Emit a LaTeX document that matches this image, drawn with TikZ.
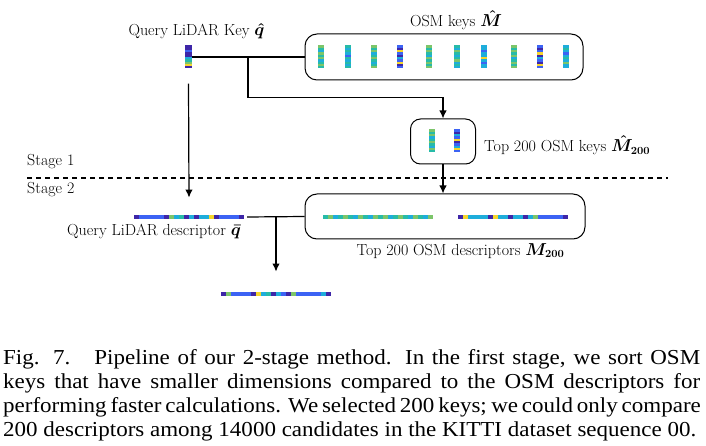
\documentclass[tikz,border=0pt]{standalone}
\usepackage{fontspec}
\usepackage{amsmath,amssymb}
\newfontfamily\capfont[FakeStretch=1.08]{Liberation Serif}
\usetikzlibrary{arrows.meta,positioning,calc}
\definecolor{dk}{HTML}{3E26A8}
\definecolor{bl}{HTML}{3C63F4}
\definecolor{cy}{HTML}{1EADDB}
\definecolor{tl}{HTML}{27BBA8}
\definecolor{gr}{HTML}{7CC56A}
\definecolor{yl}{HTML}{F5D52C}
\tikzset{
  box/.style={draw,line width=1pt,rounded corners=12pt,inner sep=0pt},
  vbar/.style={inner sep=0pt,minimum width=6pt,minimum height=23pt,
    path picture={\foreach \c [count=\i from 0] in {#1}
      \fill[\c] ([yshift=-\i*2.3pt]path picture bounding box.north west)
        rectangle ([yshift=-\i*2.3pt-2.3pt]path picture bounding box.north east);}},
  hbar/.style={inner sep=0pt,minimum width=110pt,minimum height=4.5pt,
    path picture={\foreach \c [count=\i from 0] in {#1}
      \fill[\c] ([xshift=\i*5pt]path picture bounding box.south west)
        rectangle ([xshift=\i*5pt+5pt]path picture bounding box.north west);}},
  ln/.style={line width=1.2pt},
  ar/.style={ln,-{Latex[length=8pt,width=7.5pt]}},
  dl/.style={line width=1.2pt,dash pattern=on 5pt off 4pt},
  lbl/.style={inner sep=1pt},
  captxt/.style={anchor=base west,inner sep=0pt,font=\capfont\fontsize{21.3}{24}\selectfont},
}
\begin{document}
\begin{tikzpicture}[x=1pt,y=1pt,font=\fontsize{16}{19}\selectfont]
\useasboundingbox (0,0) rectangle (706,-446);
\node[vbar={dk,dk,bl,dk,dk,cy,tl,gr,yl,dk},minimum width=7pt] (qkey) at (188.5,-57) {};
\node[lbl] (qkeyl) at (196.5,-31) {Query LiDAR Key $\boldsymbol{\hat{q}}$};
\node[box,minimum width=278pt,minimum height=46pt] (osm) at (444,-57) {};
\node[lbl] (osml) at (456,-20) {OSM keys $\boldsymbol{\hat{M}}$};
\node[vbar={gr,tl,cy,gr,tl,gr,cy,tl,gr,tl}] (k1) at (321,-57) {};
\node[vbar={tl,cy,tl,cy,bl,tl,cy,tl,cy,tl}] (k2) at (348,-57) {};
\node[vbar={gr,tl,gr,cy,tl,gr,tl,cy,tl,gr}] (k3) at (374,-57) {};
\node[vbar={bl,dk,yl,bl,dk,cy,bl,yl,dk,bl}] (k4) at (400,-57) {};
\node[vbar={gr,tl,gr,tl,cy,gr,tl,gr,tl,gr}] (k5) at (429,-57) {};
\node[vbar={tl,cy,gr,tl,cy,tl,gr,cy,tl,cy}] (k6) at (457,-57) {};
\node[vbar={cy,cy,bl,cy,cy,yl,cy,bl,cy,cy}] (k7) at (484,-57) {};
\node[vbar={gr,tl,gr,tl,gr,cy,tl,gr,tl,gr}] (k8) at (514,-57) {};
\node[vbar={bl,dk,bl,yl,dk,cy,bl,dk,yl,bl}] (k9) at (540,-57) {};
\node[vbar={cy,tl,cy,bl,cy,tl,cy,gr,cy,cy}] (k10) at (566,-57) {};
\node[box,rounded corners=10pt,minimum width=65pt,minimum height=45pt] (top) at (443,-141.5) {};
\node[vbar={gr,tl,gr,cy,tl,gr,tl,cy,gr,tl}] (t1) at (432,-141) {};
\node[vbar={bl,dk,cy,bl,yl,dk,bl,cy,yl,bl}] (t2) at (457,-141) {};
\node[lbl,anchor=west] (topl) at (483,-145) {Top 200 OSM keys $\boldsymbol{\hat{M}_{200}}$};
\coordinate (sl) at (27,-178);
\coordinate (sr) at (668,-178);
\draw[dl] (sl) -- (sr);
\node[anchor=west,inner sep=0pt] (st1) at (27,-162) {Stage 1};
\node[anchor=west,inner sep=0pt] (st2) at (27,-190) {Stage 2};
\node[box,minimum width=280pt,minimum height=45pt] (des) at (445,-216.5) {};
\node[hbar={dk,bl,bl,bl,bl,bl,dk,gr,cy,tl,dk,cy,dk,cy,cy,yl,dk,bl,bl,bl,bl,dk}] (qdesc) at (189,-217) {};
\node[lbl,anchor=east] (qdescl) at (242,-232) {Query LiDAR descriptor $\boldsymbol{\bar{q}}$};
\node[hbar={tl,gr,cy,tl,gr,tl,cy,gr,tl,cy,gr,tl,gr,cy,tl,gr,tl,cy,gr,tl,cy,gr},minimum width=112pt] (d1) at (379,-217) {};
\node[hbar={dk,yl,cy,cy,cy,cy,dk,yl,cy,cy,dk,cy,cy,dk,cy,gr,bl,bl,bl,bl,bl,dk},minimum width=112pt] (d2) at (514,-217) {};
\node[lbl] (desl) at (460.5,-251) {Top 200 OSM descriptors $\boldsymbol{M_{200}}$};
\node[hbar={dk,gr,bl,bl,bl,bl,dk,yl,cy,tl,dk,cy,bl,dk,gr,bl,bl,bl,bl,bl,cy,dk}] (out) at (276,-294) {};
\draw[ln] (qkey.east) -- (osm.west);
\coordinate (b1) at (248,-57);
\draw[ar] (b1) |- ($(top.north)+(0,21)$) -- (top.north);
\draw[ar] (top.south) -- (top.south |- des.north);
\draw[ar] ([yshift=-15pt]qkey.south) -- ([yshift=17pt]qdesc.north);
\draw[ln] ([xshift=3pt]qdesc.east) -- (des.west);
\coordinate (b2) at (276,-217);
\draw[ar] (b2) -- ([yshift=20pt]out.north);
\node[captxt] (c1) at (3,-364) {\makebox[697pt][s]{Fig. 7.\hspace{0.5em} Pipeline of our 2-stage method. In the first stage, we sort OSM}};
\node[captxt] (c2) at (3,-388) {\makebox[697pt][s]{keys that have smaller dimensions compared to the OSM descriptors for}};
\node[captxt] (c3) at (3,-412) {\makebox[697pt][s]{performing faster calculations. We selected 200 keys; we could only compare}};
\node[captxt] (c4) at (3,-436) {200 descriptors among 14000 candidates in the KITTI dataset sequence 00.};
\end{tikzpicture}
\end{document}
